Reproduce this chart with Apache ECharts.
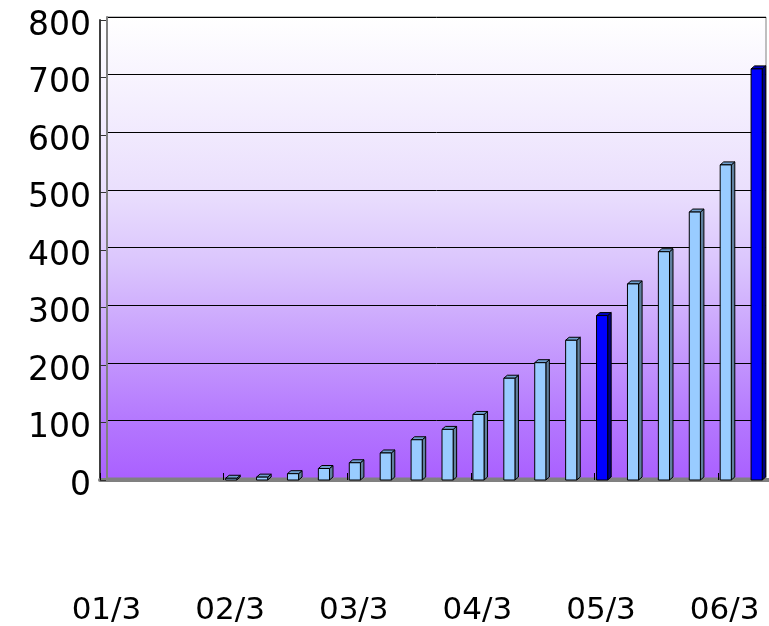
<!DOCTYPE html>
<html>
<head>
<meta charset="utf-8">
<script src="https://cdn.jsdelivr.net/npm/echarts@6/dist/echarts.min.js"></script>
<style>
  html, body { margin: 0; padding: 0; background: #fff; }
  #chart_box { width: 769px; height: 626px; }
</style>
</head>
<body>
<div id="chart_box"></div>
<script>
// quarters, one bar each
var categories = [
  "01/3", "01/6", "01/9", "01/12",
  "02/3", "02/6", "02/9", "02/12",
  "03/3", "03/6", "03/9", "03/12",
  "04/3", "04/6", "04/9", "04/12",
  "05/3", "05/6", "05/9", "05/12",
  "06/3", "06/6"
];
var values = [
  null, null, null, null,
  3, 5, 11, 20,
  30, 47, 70, 88,
  114, 177, 204, 243,
  286, 341, 397, 466,
  548, 715
];
// bars drawn in dark blue
var darkBars = ["05/3", "06/6"];
var yTicks = [0, 100, 200, 300, 400, 500, 600, 700, 800];

var myChart = echarts.init(document.getElementById("chart_box"));

// wall fill
var wallFill = {
  type: "linear", x: 0, y: 0, x2: 0, y2: 1,
  colorStops: [
    { offset: 0, color: "#ffffff" },
    { offset: 0.375, color: "#eadffd" },
    { offset: 0.54, color: "#dac4fd" },
    { offset: 0.874, color: "#b478fe" },
    { offset: 1, color: "#aa60ff" }
  ]
};

function renderBar(params, api) {
  var idx = api.value(0);
  var val = api.value(1);
  if (val == null || isNaN(val)) return;
  var base = api.coord([idx, 0]);
  var top = api.coord([idx, val]);
  var bw = api.size([1, 0])[0];
  var x = base[0] - bw / 2 + 2;
  var w = bw * 0.36;
  var d = 3.5, dv = 3;
  var dark = darkBars.indexOf(categories[idx]) >= 0;
  var front = dark ? "#0000ff" : "#99ccff";
  var side = dark ? "#000080" : "#60809f";
  var cap = dark ? "#0000c0" : "#6f9fcf";
  var stroke = { stroke: "#000", lineWidth: 1 };
  return {
    type: "group",
    children: [
      {
        type: "polygon",
        shape: { points: [[x + w, top[1]], [x + w + d, top[1] - dv], [x + w + d, base[1] - dv], [x + w, base[1]]] },
        style: Object.assign({ fill: side }, stroke)
      },
      {
        type: "polygon",
        shape: { points: [[x, top[1]], [x + d, top[1] - dv], [x + w + d, top[1] - dv], [x + w, top[1]]] },
        style: Object.assign({ fill: cap }, stroke)
      },
      {
        type: "rect",
        shape: { x: x, y: top[1], width: w, height: base[1] - top[1] },
        style: Object.assign({ fill: front }, stroke)
      }
    ]
  };
}

var option = {
  animation: false,
  graphic: [
    {
      // left side wall strip
      type: "rect", z: -1, silent: true,
      shape: { x: 101, y: 18, width: 6, height: 462 },
      style: { fill: wallFill }
    }
  ],
  grid: [
    {
      // back wall
      left: 107, right: 3, top: 17, bottom: 148,
      containLabel: false,
      outerBoundsMode: "none",
      show: true,
      borderColor: "#808080",
      borderWidth: 1,
      backgroundColor: wallFill
    },
    {
      // front plane with the bars
      left: 100, width: 680, top: 20, bottom: 146,
      containLabel: false,
      outerBoundsMode: "none"
    }
  ],
  xAxis: [
    {
      gridIndex: 0, type: "category", data: categories,
      show: false
    },
    {
      gridIndex: 1, type: "category", data: categories,
      axisLine: { show: true, lineStyle: { color: "#808080", width: 4 } },
      axisTick: { show: true, inside: true, interval: 3, length: 7, lineStyle: { color: "#000" } },
      axisLabel: {
        interval: 3,
        margin: 116,
        fontFamily: "DejaVu Sans",
        fontSize: 31,
        lineHeight: 30,
        color: "#000",
        padding: [0, 18, 0, 0]
      }
    }
  ],
  yAxis: [
    {
      gridIndex: 0, type: "value", min: 0, max: 800, interval: 100,
      axisLine: { show: true, lineStyle: { color: "#808080", width: 2 } },
      axisTick: { show: false },
      splitLine: { show: true, lineStyle: { color: "#000", width: 1 } },
      axisLabel: { show: false }
    },
    {
      gridIndex: 1, type: "value", min: 0, max: 800, interval: 100,
      axisLine: { show: true, lineStyle: { color: "#404040", width: 2 } },
      axisTick: { show: true, inside: true, length: 6, lineStyle: { color: "#333" } },
      splitLine: { show: false },
      axisLabel: {
        margin: 9,
        fontFamily: "DejaVu Sans",
        fontSize: 33,
        color: "#000",
        verticalAlign: "top",
        lineHeight: 12,
        formatter: function (v) { return yTicks.indexOf(v) >= 0 ? String(v) : ""; }
      }
    }
  ],
  series: [
    {
      type: "custom",
      xAxisIndex: 1,
      yAxisIndex: 1,
      renderItem: renderBar,
      encode: { x: 0, y: 1 },
      data: values.map(function (v, i) { return [i, v]; })
    }
  ]
};

myChart.setOption(option);
</script>
</body>
</html>
